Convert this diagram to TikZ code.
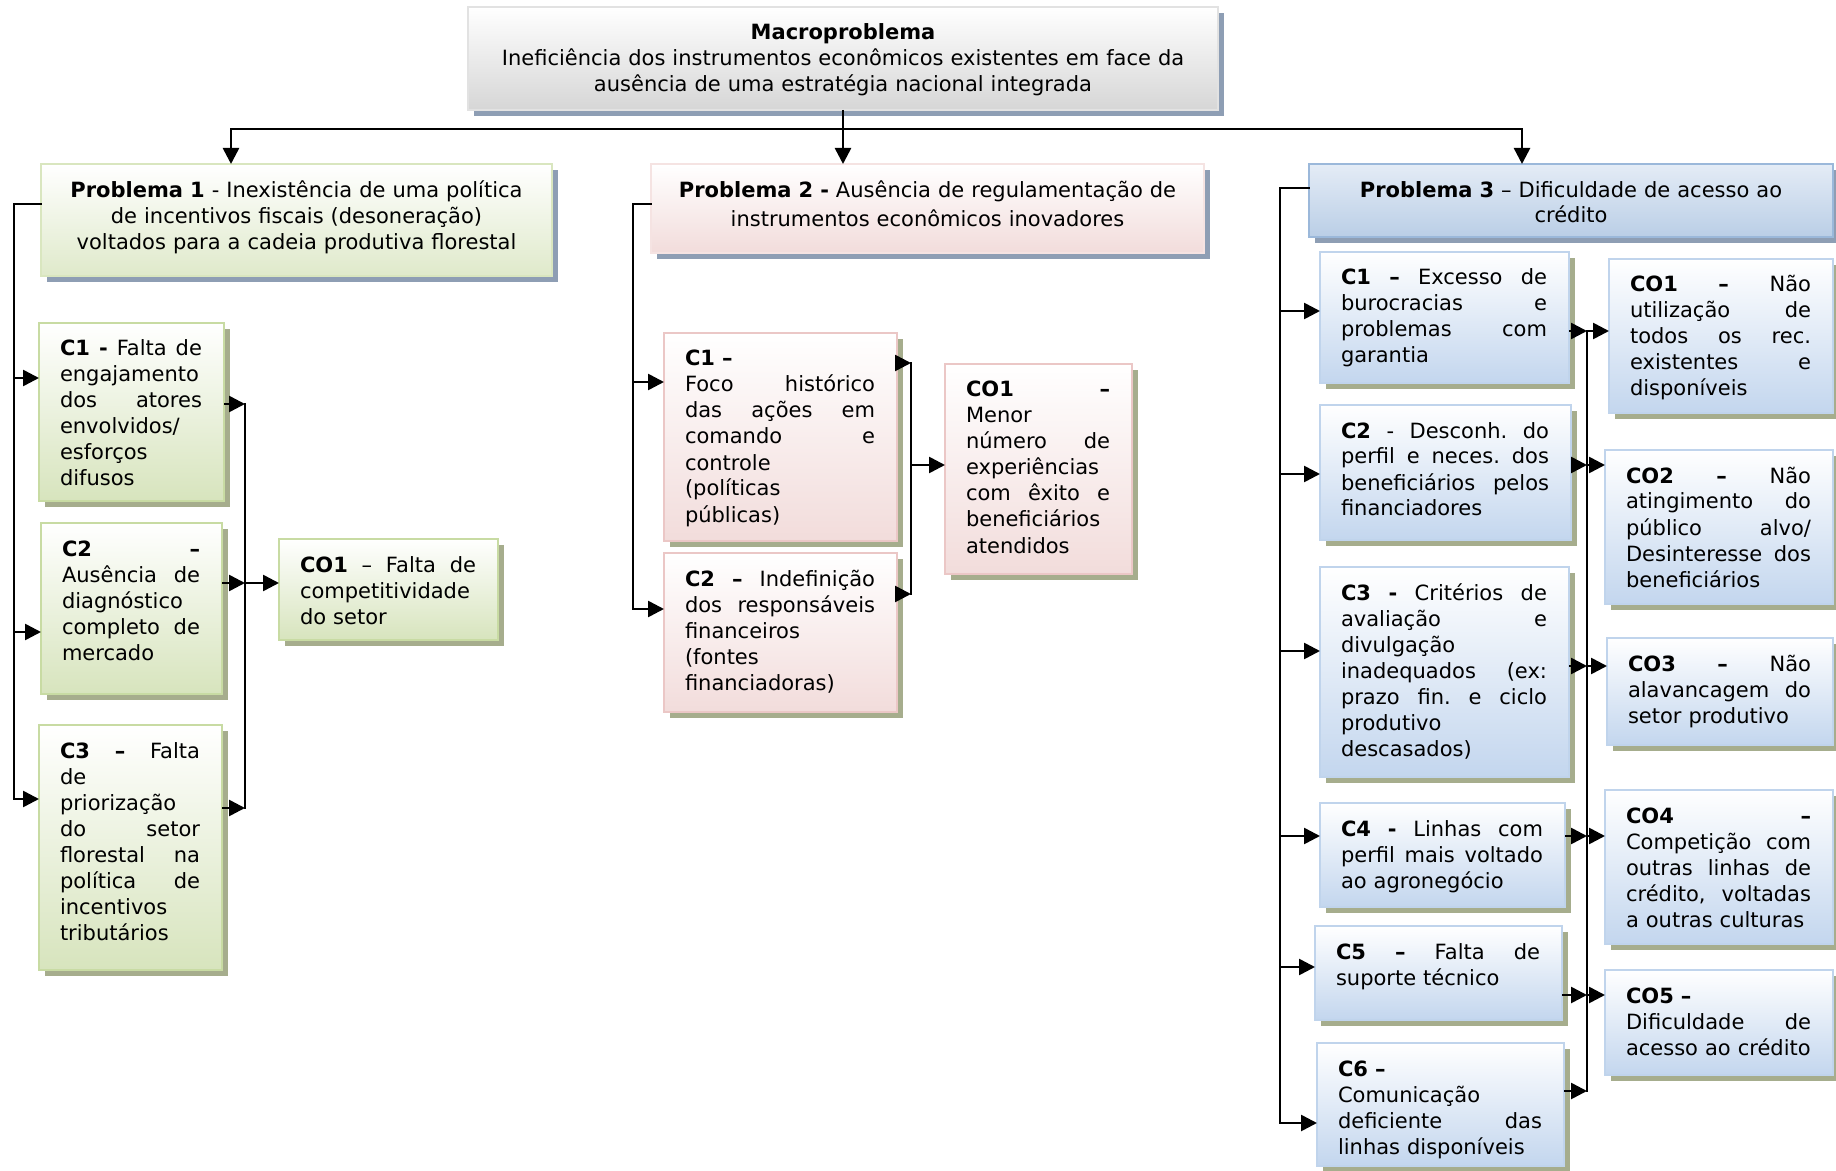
\documentclass[tikz,border=0pt]{standalone}
\usepackage{fontspec}
\setmainfont{DejaVu Sans}
\usetikzlibrary{arrows.meta,shadows,calc}

\definecolor{grnB}{HTML}{C8DBA3}
\definecolor{grnF}{HTML}{D7E4BD}
\definecolor{pnkB}{HTML}{EBC7C6}
\definecolor{pnkF}{HTML}{F2DCDB}
\definecolor{bluB}{HTML}{C0D4EC}
\definecolor{bluF}{HTML}{C3D6EE}
\definecolor{bluPB}{HTML}{9BB8DA}
\definecolor{bluPT}{HTML}{E4ECF6}
\definecolor{bluPF}{HTML}{BACEE6}
\definecolor{gryB}{HTML}{E2E2E2}
\definecolor{gryF}{HTML}{D6D6D6}
\definecolor{shBlue}{HTML}{8E9EB4}
\definecolor{shOlive}{HTML}{A6AD8D}

% a fully justified line of the given width
\newlength\jw
\newcommand\jl[1]{\leavevmode\hbox to\jw{\spaceskip=0.32em plus 1fil\relax
  \xspaceskip=0.32em plus 1fil\relax #1}\\}

\tikzset{
  box/.style={rectangle, draw, line width=1.3pt, inner sep=0pt, outer sep=0pt},
  olive shadow/.style={general shadow={fill=shOlive, shadow xshift=3pt, shadow yshift=-3pt}},
  blue shadow/.style={general shadow={fill=shBlue, shadow xshift=3pt, shadow yshift=-3pt}},
  greenbox/.style={box, draw=grnB, top color=white, bottom color=grnF, olive shadow},
  pinkbox/.style={box, draw=pnkB, top color=white, bottom color=pnkF, olive shadow},
  bluebox/.style={box, draw=bluB, top color=white, bottom color=bluF, olive shadow},
  macrobox/.style={box, draw=gryB, top color=white, bottom color=gryF, blue shadow},
  p1box/.style={box, draw=grnB!70, top color=white, bottom color=grnF!80, blue shadow},
  p2box/.style={box, draw=pnkF!80, top color=white, bottom color=pnkF, blue shadow},
  p3box/.style={box, draw=bluPB, top color=bluPT, bottom color=bluPF, blue shadow},
  txt/.style={inner sep=0pt, outer sep=0pt, anchor=base west, align=left,
    font=\fontsize{10.5}{13}\selectfont},
  ctxt/.style={inner sep=0pt, outer sep=0pt, anchor=base, align=center,
    font=\fontsize{10.5}{13}\selectfont},
  link/.style={line width=1.3pt, line cap=rect},
  arr/.style={line width=1.3pt, -{Triangle[length=8pt,width=8pt]}},
}

% box with top-left text: name, style, x1, y1, x2, y2, lines
\newcommand\cbox[7]{%
  \pgfmathsetmacro\bw{(#5-#3)*0.5}%
  \pgfmathsetmacro\bh{(#6-#4)*0.5}%
  \pgfmathsetlength\jw{(#5-#3-43)*0.5pt}%
  \node[#2, anchor=north west, minimum width=\bw pt, minimum height=\bh pt] (#1) at (#3,#4) {};
  \node[txt, text width=\jw] (#1t) at (#3+21,#4+33) {#7};
}
% box with centred text: [text style], name, style, x1, y1, x2, y2, baseline y, lines
\newcommand\pbox[9][]{%
  \pgfmathsetmacro\bw{(#6-#4)*0.5}%
  \pgfmathsetmacro\bh{(#7-#5)*0.5}%
  \pgfmathsetmacro\tw{(#6-#4-20)*0.5}%
  \node[#3, anchor=north west, minimum width=\bw pt, minimum height=\bh pt] (#2) at (#4,#5) {};
  \node[ctxt, text width=\tw pt, #1] (#2t) at ($(#4,#8)!0.5!(#6,#8)$) {#9};
}

\begin{document}
\begin{tikzpicture}[x=0.5pt,y=-0.5pt]
\useasboundingbox (0,0) rectangle (1836,1171);

% ---------- top level ----------
\pbox{macro}{macrobox}{468}{7}{1218}{110}{40}{\textbf{Macroproblema}\\
Ineficiência dos instrumentos econômicos existentes em face da\\
ausência de uma estratégia nacional integrada}

\pbox{p1}{p1box}{41}{164}{552}{276}{198}{\textbf{Problema 1} - Inexistência de uma política\\
de incentivos fiscais (desoneração)\\
voltados para a cadeia produtiva florestal}

\pbox[font=\fontsize{10.5}{14.5}\selectfont]{p2}{p2box}{651}{164}{1204}{253}{198}{%
\textbf{Problema 2 -} Ausência de regulamentação de\\
instrumentos econômicos inovadores}

\pbox[font=\fontsize{10.5}{12.5}\selectfont]{p3}{p3box}{1309}{164}{1833}{237}{198}{%
\textbf{Problema 3} – Dificuldade de acesso ao\\
crédito}

% ---------- problem 1 ----------
\cbox{p1c1}{greenbox}{39}{323}{224}{501}{%
\jl{\textbf{C1 -} Falta de}
engajamento\\
\jl{dos atores}
envolvidos/\\
esforços\\
difusos}

\cbox{p1c2}{greenbox}{41}{523}{222}{694}{%
\jl{\textbf{C2 –}}
\jl{Ausência de}
diagnóstico\\
\jl{completo de}
mercado}

\cbox{p1c3}{greenbox}{39}{725}{222}{970}{%
\jl{\textbf{C3 –} Falta}
de\\
priorização\\
\jl{do setor}
\jl{florestal na}
\jl{política de}
incentivos\\
tributários}

\cbox{p1co1}{greenbox}{279}{539}{498}{640}{%
\jl{\textbf{CO1} – Falta de}
competitividade\\
do setor}

% ---------- problem 2 ----------
\cbox{p2c1}{pinkbox}{664}{333}{897}{541}{%
\textbf{C1 –}\\
\jl{Foco histórico}
\jl{das ações em}
\jl{comando e}
controle\\
(políticas\\
públicas)}

\cbox{p2c2}{pinkbox}{664}{553}{897}{712}{%
\jl{\textbf{C2 –} Indefinição}
\jl{dos responsáveis}
financeiros\\
(fontes\\
financiadoras)}

\cbox{p2co1}{pinkbox}{945}{364}{1132}{574}{%
\jl{\textbf{CO1 –}}
Menor\\
\jl{número de}
experiências\\
\jl{com êxito e}
beneficiários\\
atendidos}

% ---------- problem 3 ----------
\cbox{p3c1}{bluebox}{1320}{252}{1569}{383}{%
\jl{\textbf{C1 –} Excesso de}
\jl{burocracias e}
\jl{problemas com}
garantia}

\cbox{p3c2}{bluebox}{1320}{405}{1571}{540}{%
\jl{\textbf{C2} - Desconh. do}
\jl{perfil e neces. dos}
\jl{beneficiários pelos}
financiadores}

\cbox{p3c3}{bluebox}{1320}{567}{1569}{777}{%
\jl{\textbf{C3 -} Critérios de}
\jl{avaliação e}
divulgação\\
\jl{inadequados (ex:}
\jl{prazo fin. e ciclo}
produtivo\\
descasados)}

\cbox{p3c4}{bluebox}{1320}{803}{1565}{907}{%
\jl{\textbf{C4 -} Linhas com}
\jl{perfil mais voltado}
ao agronegócio}

\cbox{p3c5}{bluebox}{1315}{926}{1562}{1020}{%
\jl{\textbf{C5 –} Falta de}
suporte técnico}

\cbox{p3c6}{bluebox}{1317}{1043}{1564}{1166}{%
\textbf{C6 –}\\
Comunicação\\
\jl{deficiente das}
linhas disponíveis}

\cbox{p3co1}{bluebox}{1609}{259}{1833}{413}{%
\jl{\textbf{CO1 –} Não}
\jl{utilização de}
\jl{todos os rec.}
\jl{existentes e}
disponíveis}

\cbox{p3co2}{bluebox}{1605}{450}{1833}{604}{%
\jl{\textbf{CO2 –} Não}
\jl{atingimento do}
\jl{público alvo/}
\jl{Desinteresse dos}
beneficiários}

\cbox{p3co3}{bluebox}{1607}{638}{1833}{745}{%
\jl{\textbf{CO3 –} Não}
\jl{alavancagem do}
setor produtivo}

\cbox{p3co4}{bluebox}{1605}{790}{1833}{944}{%
\jl{\textbf{CO4 –}}
\jl{Competição com}
\jl{outras linhas de}
\jl{crédito, voltadas}
a outras culturas}

\cbox{p3co5}{bluebox}{1605}{970}{1833}{1075}{%
\textbf{CO5 –}\\
\jl{Dificuldade de}
acesso ao crédito}

% ---------- connectors: macro problem to problems ----------
\coordinate (busL) at (231,129);
\coordinate (busR) at (1522,129);
\draw[link] (busL) -- (busR);
\draw[arr] (busL) -- (busL |- p1.north);
\draw[arr] (busR) -- (busR |- p3.north);
\draw[arr] (macro.south) -- (macro.south |- p2.north);

% ---------- problem 1 wiring ----------
\coordinate (p1k) at (14,204);
\coordinate (p1c1i) at (39,378);
\coordinate (p1c2i) at (41,632);
\coordinate (p1c3i) at (39,799);
\draw[link] (p1.west |- p1k) -- (p1k) -- (p1k |- p1c3i);
\foreach \t in {p1c1i,p1c2i,p1c3i} \draw[arr] (p1k |- \t) -- (\t);

\coordinate (p1r) at (245,404);
\coordinate (p1c1o) at (224,404);
\coordinate (p1c2o) at (222,583);
\coordinate (p1c3o) at (222,808);
\coordinate (p1co1i) at (279,583);
\draw[link] (p1r) -- (p1r |- p1c3o);
\foreach \s in {p1c1o,p1c2o,p1c3o} \draw[arr] (\s) -- (p1r |- \s);
\draw[arr] (p1r |- p1co1i) -- (p1co1i);

% ---------- problem 2 wiring ----------
\coordinate (p2k) at (633,204);
\coordinate (p2c1i) at (664,382);
\coordinate (p2c2i) at (664,609);
\draw[link] (p2.west |- p2k) -- (p2k) -- (p2k |- p2c2i);
\foreach \t in {p2c1i,p2c2i} \draw[arr] (p2k |- \t) -- (\t);

\coordinate (p2r) at (911,363);
\coordinate (p2c1o) at (897,363);
\coordinate (p2c2o) at (897,594);
\coordinate (p2co1i) at (945,465);
\draw[link] (p2r) -- (p2r |- p2c2o);
\foreach \s in {p2c1o,p2c2o} \draw[arr] (\s) -- (p2r |- \s);
\draw[arr] (p2r |- p2co1i) -- (p2co1i);

% ---------- problem 3 wiring ----------
\coordinate (p3k) at (1280,188);
\coordinate (p3c1i) at (1320,311);
\coordinate (p3c2i) at (1320,474);
\coordinate (p3c3i) at (1320,651);
\coordinate (p3c4i) at (1320,836);
\coordinate (p3c5i) at (1315,967);
\coordinate (p3c6i) at (1317,1123);
\draw[link] (p3.west |- p3k) -- (p3k) -- (p3k |- p3c6i);
\foreach \t in {p3c1i,p3c2i,p3c3i,p3c4i,p3c5i,p3c6i} \draw[arr] (p3k |- \t) -- (\t);

\coordinate (p3r) at (1587,331);
\coordinate (p3c1o) at (1569,331);
\coordinate (p3c2o) at (1571,465);
\coordinate (p3c3o) at (1569,666);
\coordinate (p3c4o) at (1565,836);
\coordinate (p3c5o) at (1562,995);
\coordinate (p3c6o) at (1564,1091);
\coordinate (p3co1i) at (1609,331);
\coordinate (p3co2i) at (1605,465);
\coordinate (p3co3i) at (1607,666);
\coordinate (p3co4i) at (1605,836);
\coordinate (p3co5i) at (1605,995);
\draw[link] (p3r) -- (p3r |- p3c6o);
\foreach \s in {p3c1o,p3c2o,p3c3o,p3c4o,p3c5o,p3c6o} \draw[arr] (\s) -- (p3r |- \s);
\foreach \t in {p3co1i,p3co2i,p3co3i,p3co4i,p3co5i} \draw[arr] (p3r |- \t) -- (\t);

\end{tikzpicture}
\end{document}
